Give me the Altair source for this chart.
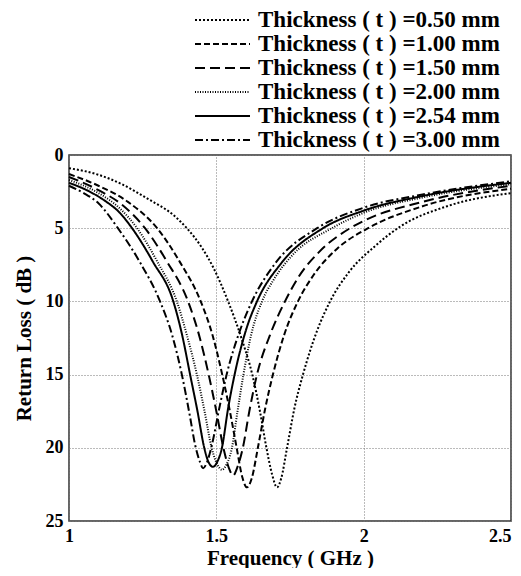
import altair as alt
import pandas as pd

labels = [
    "Thickness ( t ) =0.50 mm",
    "Thickness ( t ) =1.00 mm",
    "Thickness ( t ) =1.50 mm",
    "Thickness ( t ) =2.00 mm",
    "Thickness ( t ) =2.54 mm",
    "Thickness ( t ) =3.00 mm",
]

f_050 = [1.00, 1.10, 1.18, 1.268, 1.36, 1.40, 1.45, 1.49, 1.54, 1.585, 1.622, 1.648, 1.670, 1.689, 1.706, 1.72, 1.740, 1.765, 1.794, 1.842, 1.886, 1.95, 2.04, 2.123, 2.283, 2.5]
r_050 = [0.9, 1.35, 2.0, 3.0, 4.2, 5.0, 6.3, 7.7, 10.0, 12.5, 15.0, 17.5, 20.0, 21.8, 22.7, 22.1, 20.0, 17.3, 15.0, 12.0, 10.0, 8.0, 6.2, 4.9, 3.5, 2.6]

f_100 = [1.00, 1.10, 1.20, 1.299, 1.376, 1.447, 1.487, 1.520, 1.546, 1.569, 1.588, 1.604, 1.620, 1.641, 1.665, 1.692, 1.730, 1.777, 1.83, 1.91, 2.015, 2.2, 2.5]
r_100 = [1.3, 2.1, 3.2, 5.0, 7.3, 10.0, 12.3, 15.0, 17.5, 20.0, 22.0, 22.7, 22.1, 20.0, 17.4, 15.0, 12.3, 10.0, 8.2, 6.4, 5.0, 3.5, 2.3]

f_150 = [1.00, 1.10, 1.18, 1.258, 1.33, 1.404, 1.44, 1.474, 1.500, 1.524, 1.543, 1.557, 1.570, 1.590, 1.612, 1.638, 1.682, 1.733, 1.78, 1.85, 1.954, 2.0, 2.2, 2.5]
r_150 = [1.5, 2.4, 3.4, 5.0, 7.2, 10.0, 12.2, 15.0, 17.5, 20.0, 21.4, 21.9, 21.4, 20.0, 17.5, 15.0, 12.3, 10.0, 8.3, 6.6, 5.0, 4.5, 3.2, 2.1]

f_200 = [1.00, 1.10, 1.17, 1.231, 1.30, 1.366, 1.40, 1.434, 1.460, 1.484, 1.505, 1.519, 1.533, 1.553, 1.572, 1.592, 1.618, 1.655, 1.695, 1.76, 1.892, 2.0, 2.2, 2.5]
r_200 = [1.7, 2.6, 3.6, 5.0, 7.3, 10.0, 12.3, 15.0, 17.5, 20.0, 21.2, 21.5, 21.2, 20.0, 17.5, 15.0, 12.3, 10.0, 8.5, 6.8, 5.0, 3.95, 2.9, 2.0]

f_254 = [1.00, 1.06, 1.12, 1.17, 1.214, 1.285, 1.354, 1.384, 1.411, 1.436, 1.459, 1.474, 1.489, 1.502, 1.519, 1.54, 1.562, 1.60, 1.638, 1.72, 1.862, 2.0, 2.2, 2.5]
r_254 = [1.9, 2.4, 3.1, 3.9, 5.0, 7.3, 10.0, 12.3, 15.0, 17.5, 20.0, 21.0, 21.3, 21.0, 20.0, 17.3, 15.0, 12.0, 10.0, 7.4, 5.0, 3.8, 2.8, 1.9]

f_300 = [1.00, 1.05, 1.10, 1.166, 1.24, 1.309, 1.35, 1.383, 1.41, 1.428, 1.445, 1.455, 1.468, 1.485, 1.51, 1.535, 1.58, 1.621, 1.70, 1.842, 2.0, 2.2, 2.5]
r_300 = [2.1, 2.6, 3.3, 5.0, 7.3, 10.0, 12.3, 15.0, 17.8, 19.8, 21.0, 21.4, 21.0, 19.8, 17.3, 15.0, 12.0, 10.0, 7.4, 5.0, 3.6, 2.7, 1.8]

series = [(f_050, r_050), (f_100, r_100), (f_150, r_150), (f_200, r_200), (f_254, r_254), (f_300, r_300)]

rows = []
for lab, (fs, rs) in zip(labels, series):
    for f, r in zip(fs, rs):
        rows.append({"freq": f, "rl": r, "series": lab})
df = pd.DataFrame(rows)

df_leg = pd.DataFrame({"series": labels, "idx": list(range(len(labels)))})

dashes = [[2, 2], [6, 3], [10, 5], [1, 1.5], [1, 0], [8, 3, 2, 3]]
widths = [2, 2, 3.5, 1, 2, 2]

FONT = "Liberation Serif"

dash_scale = alt.Scale(domain=labels, range=dashes)
width_scale = alt.Scale(domain=labels, range=widths)

lines = alt.Chart(df).mark_line(interpolate="monotone", color="black").encode(
    x=alt.X("freq:Q",
            scale=alt.Scale(domain=[1, 2.5], nice=False),
            axis=alt.Axis(values=[1, 1.5, 2, 2.5], format="~g", title="Frequency ( GHz )",
                          labelAlign={"condition": {"test": "datum.value == 2.5", "value": "right"},
                                      "value": "center"})),
    y=alt.Y("rl:Q",
            scale=alt.Scale(domain=[0, 25], reverse=True, nice=False),
            axis=alt.Axis(values=[0, 5, 10, 15, 20, 25], title="Return Loss ( dB )")),
    strokeDash=alt.StrokeDash("series:N", scale=dash_scale, legend=None),
    strokeWidth=alt.StrokeWidth("series:N", scale=width_scale, legend=None),
    detail="series:N",
)

leg_y = alt.Y("idx:Q", scale=alt.Scale(domain=[0, 5], range=[-135, -15]), axis=None)

leg_lines = alt.Chart(df_leg).mark_rule(color="black").encode(
    x=alt.value(126),
    x2=alt.value(181),
    y=leg_y,
    strokeDash=alt.StrokeDash("series:N", scale=dash_scale, legend=None),
    strokeWidth=alt.StrokeWidth("series:N", scale=width_scale, legend=None),
)

leg_text = alt.Chart(df_leg).mark_text(
    align="left", baseline="middle", font=FONT, fontSize=23, fontWeight="bold", color="black"
).encode(
    x=alt.value(189),
    y=leg_y,
    text="series:N",
)

chart = alt.layer(lines, leg_lines, leg_text).resolve_scale(
    y="independent"
).properties(
    width=442,
    height=366,
    autosize=alt.AutoSizeParams(type="none"),
    padding={"left": 61, "top": 147, "right": 2, "bottom": 47},
).configure_view(
    stroke="#333333", strokeWidth=1.5
).configure_axis(
    domain=False,
    ticks=False,
    grid=True,
    gridColor="#777777",
    gridDash=[1, 2],
    gridWidth=1,
    labelFont=FONT,
    labelFontWeight="bold",
    labelFontSize=18,
    labelColor="black",
    labelFlush=False,
    titleFont=FONT,
    titleFontWeight="bold",
    titleFontSize=21,
    titleColor="black",
).configure_axisX(
    labelPadding=6,
    titlePadding=2,
).configure_axisY(
    labelPadding=6,
    titlePadding=11,
)

chart.save("out.html", embed_options={"renderer": "svg", "actions": False})
